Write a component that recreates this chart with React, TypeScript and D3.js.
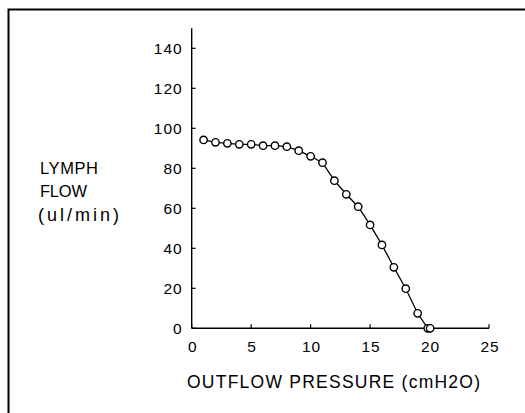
import React, { useRef, useEffect } from 'react';
import * as d3 from 'd3';

// outflow pressure (cmH2O) vs lymph flow (ul/min)
const pressure = [1, 2, 3, 4, 5, 6, 7, 8, 9, 10, 11, 12, 13, 14, 15, 16, 17, 18, 19, 19.85, 20.05];
const flow = [94.2, 93, 92.5, 92, 92, 91.3, 91.3, 90.8, 88.8, 86, 82.8, 73.8, 67, 60.8, 51.7, 41.7, 30.5, 19.8, 7.5, 0, 0];
const xTicks = [0, 5, 10, 15, 20, 25];
const yTicks = [0, 20, 40, 60, 80, 100, 120, 140];
const yLabelLines = ['LYMPH', 'FLOW', '(ul/min)'];
const xLabel = 'OUTFLOW PRESSURE (cmH2O)';

const App = () => {
    const ref = useRef<SVGSVGElement>(null);

    useEffect(() => {
        const svg = d3.select(ref.current);
        svg.selectAll('*').remove();

        const font = '"Liberation Sans", Arial, sans-serif';

        // frame, only top and left edges are in view
        svg.append('path')
            .attr('d', 'M8.5,420 L8.5,9.5 L530,9.5')
            .attr('fill', 'none')
            .attr('stroke', '#000')
            .attr('stroke-width', 2);

        const x = d3.scaleLinear().domain([0, 25]).range([191.7, 489]);
        const y = d3.scaleLinear().domain([0, 150]).range([328.3, 28.3]);

        const g = svg.append('g');

        // axes lines
        g.append('line')
            .attr('x1', x(0)).attr('x2', x(0))
            .attr('y1', y(0)).attr('y2', y(150))
            .attr('stroke', '#000').attr('stroke-width', 1.4);
        g.append('line')
            .attr('x1', x(0)).attr('x2', x(25))
            .attr('y1', y(0)).attr('y2', y(0))
            .attr('stroke', '#000').attr('stroke-width', 1.4);

        // y ticks (inward)
        g.selectAll('.yt')
            .data(yTicks)
            .enter()
            .append('line')
            .attr('x1', x(0)).attr('x2', x(0) + 4)
            .attr('y1', d => y(d)).attr('y2', d => y(d))
            .attr('stroke', '#000').attr('stroke-width', 1.2);
        g.selectAll('.yl')
            .data(yTicks)
            .enter()
            .append('text')
            .attr('x', x(0) - 9)
            .attr('y', d => y(d))
            .attr('dy', '0.36em')
            .attr('text-anchor', 'end')
            .style('font-family', font)
            .style('font-size', '15.5px')
            .style('letter-spacing', '1px')
            .text(d => d);

        // x ticks (inward)
        g.selectAll('.xt')
            .data(xTicks)
            .enter()
            .append('line')
            .attr('x1', d => x(d)).attr('x2', d => x(d))
            .attr('y1', y(0)).attr('y2', y(0) - 4)
            .attr('stroke', '#000').attr('stroke-width', 1.2);
        g.selectAll('.xl')
            .data(xTicks)
            .enter()
            .append('text')
            .attr('x', d => x(d) + 1)
            .attr('y', y(0) + 24)
            .attr('text-anchor', 'middle')
            .style('font-family', font)
            .style('font-size', '15.5px')
            .style('letter-spacing', '1px')
            .text(d => d);

        // axis titles
        g.append('text')
            .attr('x', 187)
            .attr('y', 388)
            .attr('textLength', 293)
            .attr('lengthAdjust', 'spacing')
            .style('font-family', font)
            .style('font-size', '17.5px')
            .text(xLabel);

        const lens = [58, 47, 81];
        const sizes = [16.5, 16.5, 18];
        g.selectAll('.ylab')
            .data(yLabelLines)
            .enter()
            .append('text')
            .attr('x', (d, i) => (i === 2 ? 38 : 40))
            .attr('y', (d, i) => 173.5 + i * 23.5)
            .attr('textLength', (d, i) => lens[i])
            .attr('lengthAdjust', 'spacing')
            .style('font-family', font)
            .style('font-size', (d, i) => sizes[i] + 'px')
            .text(d => d);

        // curve
        const pts = pressure.map((p, i) => [p, flow[i]] as [number, number]);
        const line = d3.line<[number, number]>()
            .x(d => x(d[0]))
            .y(d => y(d[1]));
        g.append('path')
            .datum(pts)
            .attr('d', line)
            .attr('fill', 'none')
            .attr('stroke', '#000')
            .attr('stroke-width', 1.3);

        g.selectAll('.pt')
            .data(pts)
            .enter()
            .append('circle')
            .attr('cx', d => x(d[0]))
            .attr('cy', d => y(d[1]))
            .attr('r', 3.7)
            .attr('fill', '#fff')
            .attr('stroke', '#000')
            .attr('stroke-width', 1.4);
    }, []);

    return (
        <svg
            ref={ref}
            width={525}
            height={413}
            style={{ position: 'absolute', left: 0, top: 0, background: '#fff', display: 'block' }}
        />
    );
};

export default App;
